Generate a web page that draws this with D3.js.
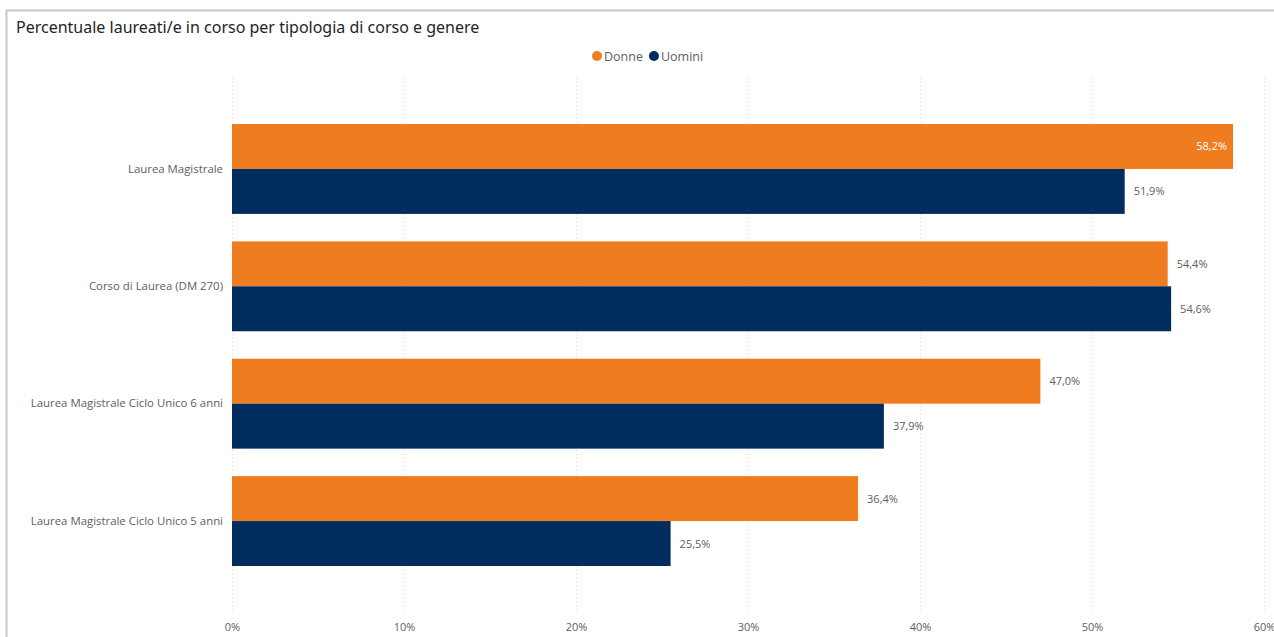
<!DOCTYPE html>
<html lang="it">
<head>
<meta charset="utf-8">
<title>Percentuale laureati/e in corso per tipologia di corso e genere</title>
<script src="https://cdn.jsdelivr.net/npm/d3@7"></script>
<style>
  html, body { margin: 0; padding: 0; background: #ffffff; }
  svg { display: block; }
</style>
</head>
<body>
<svg id="chart" width="1274" height="637"></svg>
<script>
// Course types (top to bottom) and the share of on-time graduates by gender (%)
const categories = [
  "Laurea Magistrale",
  "Corso di Laurea (DM 270)",
  "Laurea Magistrale Ciclo Unico 6 anni",
  "Laurea Magistrale Ciclo Unico 5 anni"
];
const seriesNames = ["Donne", "Uomini"];
const donne  = [58.2, 54.4, 47.0, 36.4];
const uomini = [51.9, 54.6, 37.9, 25.5];
const xTicks = [0, 10, 20, 30, 40, 50, 60];

const colors = { Donne: "#EF7D1F", Uomini: "#002D5D" };
const fmt = v => d3.format(".1f")(v).replace(".", ",") + "%";

const svg = d3.select("#chart");
const W = 1274, H = 637;

// Visual frame
svg.append("path")
  .attr("d", `M6.5,${H} V10.5 H${W}`)
  .attr("fill", "none")
  .attr("stroke", "#c8c8c8")
  .attr("stroke-width", 2);

// Title
svg.append("text")
  .attr("x", 16).attr("y", 33)
  .attr("font-family", "'Noto Sans', 'Open Sans', sans-serif")
  .attr("font-size", 16)
  .attr("fill", "#252423")
  .text("Percentuale laureati/e in corso per tipologia di corso e genere");

// Legend
const legend = svg.append("g").attr("font-family", "'Open Sans', 'Noto Sans', sans-serif").attr("font-size", 12.5);
let lx = 592;
seriesNames.forEach(name => {
  legend.append("circle").attr("cx", lx + 5).attr("cy", 56).attr("r", 5).attr("fill", colors[name]);
  const t = legend.append("text").attr("x", lx + 12).attr("y", 60.5).attr("fill", "#605E5C").text(name);
  lx += 12 + t.node().getComputedTextLength() + 6;
});

const x = d3.scaleLinear().domain([0, 60]).range([232, 1264]);

const y0 = d3.scaleBand()
  .domain(categories)
  .range([124, 566])
  .paddingInner(0.234)
  .paddingOuter(0);

const y1 = d3.scaleBand().domain(seriesNames).range([0, y0.bandwidth()]);

// Dotted vertical gridlines
const grid = svg.append("g");
grid.selectAll("line").data(xTicks).join("line")
  .attr("x1", d => Math.round(x(d)) + 0.5)
  .attr("x2", d => Math.round(x(d)) + 0.5)
  .attr("y1", 78).attr("y2", 614)
  .attr("stroke", "#d4d4d4")
  .attr("stroke-width", 1)
  .attr("stroke-dasharray", "1,3");

// X axis tick labels
const xAxis = d3.axisBottom(x).tickValues(xTicks).tickFormat(d => d + "%").tickSize(0).tickPadding(0);
const gx = svg.append("g").attr("transform", "translate(0,623)").call(xAxis);
gx.select(".domain").remove();
gx.selectAll("text")
  .attr("font-family", "'Open Sans', 'Noto Sans', sans-serif")
  .attr("font-size", 11)
  .attr("fill", "#605E5C");

// Y axis category labels
const yAxis = d3.axisLeft(y0).tickSize(0).tickPadding(9);
const gy = svg.append("g").attr("transform", `translate(${x(0)},0)`).call(yAxis);
gy.select(".domain").remove();
gy.selectAll("text")
  .attr("font-family", "'Open Sans', 'Noto Sans', sans-serif")
  .attr("font-size", 11.4)
  .attr("fill", "#605E5C");

// Bars
const rows = categories.map((c, i) => ({
  cat: c,
  values: [
    { key: "Donne", value: donne[i] },
    { key: "Uomini", value: uomini[i] }
  ]
}));

const groups = svg.append("g").selectAll("g").data(rows).join("g")
  .attr("transform", d => `translate(0,${y0(d.cat)})`);

groups.selectAll("rect").data(d => d.values).join("rect")
  .attr("x", x(0))
  .attr("y", d => y1(d.key))
  .attr("width", d => x(d.value) - x(0))
  .attr("height", y1.bandwidth())
  .attr("fill", d => colors[d.key]);

// Value labels: inside the bar when there is no room to the right
groups.selectAll("text.val").data(d => d.values).join("text")
  .attr("class", "val")
  .each(function(d) {
    const inside = x(d.value) + 50 > 1262;
    d3.select(this)
      .attr("x", inside ? x(d.value) - 6 : x(d.value) + 9)
      .attr("text-anchor", inside ? "end" : "start")
      .attr("fill", inside ? "#ffffff" : "#605E5C");
  })
  .attr("y", d => y1(d.key) + y1.bandwidth() / 2 + 4)
  .attr("font-family", "'Open Sans', 'Noto Sans', sans-serif")
  .attr("font-size", 11)
  .text(d => fmt(d.value));
</script>
</body>
</html>
